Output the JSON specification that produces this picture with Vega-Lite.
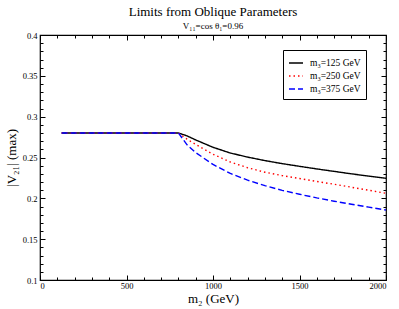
{
  "$schema": "https://vega.github.io/schema/vega-lite/v6.json",
  "width": 346,
  "height": 245,
  "autosize": "none",
  "padding": {"left": 40, "top": 35, "right": 13, "bottom": 29},
  "background": "white",
  "config": {
    "font": "Liberation Serif",
    "view": {"stroke": "#000", "strokeWidth": 1.2},
    "axis": {"domain": false, "grid": false, "tickColor": "#000", "labelColor": "#000", "titleColor": "#000", "labelFont": "Liberation Serif", "titleFont": "Liberation Serif", "labelFontSize": 8.5, "titleFontWeight": "normal"}
  },
  "title": {
    "text": "Limits from Oblique Parameters",
    "subtitle": "V₁₁=cos θ₁=0.96",
    "fontSize": 13,
    "fontWeight": "normal",
    "subtitleFontSize": 9,
    "subtitleFont": "Liberation Serif",
    "font": "Liberation Serif",
    "anchor": "middle",
    "offset": 0,
    "subtitlePadding": 3,
    "color": "#000",
    "subtitleColor": "#000"
  },
  "data": {
    "values": [
      {"m2": 125, "v": 0.28, "s": "m₃=125 GeV"},
      {"m2": 800, "v": 0.28, "s": "m₃=125 GeV"},
      {"m2": 850, "v": 0.2765, "s": "m₃=125 GeV"},
      {"m2": 900, "v": 0.2715, "s": "m₃=125 GeV"},
      {"m2": 1000, "v": 0.2625, "s": "m₃=125 GeV"},
      {"m2": 1100, "v": 0.2555, "s": "m₃=125 GeV"},
      {"m2": 1200, "v": 0.2505, "s": "m₃=125 GeV"},
      {"m2": 1300, "v": 0.2462, "s": "m₃=125 GeV"},
      {"m2": 1400, "v": 0.2425, "s": "m₃=125 GeV"},
      {"m2": 1500, "v": 0.2392, "s": "m₃=125 GeV"},
      {"m2": 1600, "v": 0.236, "s": "m₃=125 GeV"},
      {"m2": 1700, "v": 0.233, "s": "m₃=125 GeV"},
      {"m2": 1800, "v": 0.23, "s": "m₃=125 GeV"},
      {"m2": 1900, "v": 0.2272, "s": "m₃=125 GeV"},
      {"m2": 2000, "v": 0.2245, "s": "m₃=125 GeV"},
      {"m2": 125, "v": 0.28, "s": "m₃=250 GeV"},
      {"m2": 800, "v": 0.28, "s": "m₃=250 GeV"},
      {"m2": 850, "v": 0.2725, "s": "m₃=250 GeV"},
      {"m2": 900, "v": 0.266, "s": "m₃=250 GeV"},
      {"m2": 1000, "v": 0.254, "s": "m₃=250 GeV"},
      {"m2": 1100, "v": 0.2445, "s": "m₃=250 GeV"},
      {"m2": 1200, "v": 0.2375, "s": "m₃=250 GeV"},
      {"m2": 1300, "v": 0.232, "s": "m₃=250 GeV"},
      {"m2": 1400, "v": 0.2278, "s": "m₃=250 GeV"},
      {"m2": 1500, "v": 0.2243, "s": "m₃=250 GeV"},
      {"m2": 1600, "v": 0.2207, "s": "m₃=250 GeV"},
      {"m2": 1700, "v": 0.2172, "s": "m₃=250 GeV"},
      {"m2": 1800, "v": 0.2136, "s": "m₃=250 GeV"},
      {"m2": 1900, "v": 0.2099, "s": "m₃=250 GeV"},
      {"m2": 2000, "v": 0.2062, "s": "m₃=250 GeV"},
      {"m2": 125, "v": 0.28, "s": "m₃=375 GeV"},
      {"m2": 800, "v": 0.28, "s": "m₃=375 GeV"},
      {"m2": 850, "v": 0.2655, "s": "m₃=375 GeV"},
      {"m2": 900, "v": 0.256, "s": "m₃=375 GeV"},
      {"m2": 1000, "v": 0.2415, "s": "m₃=375 GeV"},
      {"m2": 1100, "v": 0.2305, "s": "m₃=375 GeV"},
      {"m2": 1200, "v": 0.2222, "s": "m₃=375 GeV"},
      {"m2": 1300, "v": 0.2155, "s": "m₃=375 GeV"},
      {"m2": 1400, "v": 0.2098, "s": "m₃=375 GeV"},
      {"m2": 1500, "v": 0.205, "s": "m₃=375 GeV"},
      {"m2": 1600, "v": 0.2005, "s": "m₃=375 GeV"},
      {"m2": 1700, "v": 0.1965, "s": "m₃=375 GeV"},
      {"m2": 1800, "v": 0.1928, "s": "m₃=375 GeV"},
      {"m2": 1900, "v": 0.1892, "s": "m₃=375 GeV"},
      {"m2": 2000, "v": 0.1857, "s": "m₃=375 GeV"}
    ]
  },
  "resolve": {"axis": {"x": "independent", "y": "independent"}},
  "layer": [
    {
      "mark": {"type": "line", "strokeWidth": 1.4, "clip": true},
      "encoding": {
        "x": {"field": "m2", "type": "quantitative", "scale": {"domain": [0, 2000], "nice": false},
          "axis": {"orient": "bottom", "values": [0, 500, 1000, 1500, 2000], "format": "d", "tickSize": -5, "labelPadding": 6, "title": "m₂ (GeV)", "titleFontSize": 13, "titlePadding": 3}},
        "y": {"field": "v", "type": "quantitative", "scale": {"domain": [0.1, 0.4], "nice": false, "zero": false},
          "axis": {"orient": "left", "values": [0.1, 0.15, 0.2, 0.25, 0.3, 0.35, 0.4], "format": "~g", "tickSize": -5, "labelPadding": 8, "title": "|V₂₁| (max)", "titleFontSize": 13, "titlePadding": 4}},
        "color": {"field": "s", "type": "nominal", "scale": {"domain": ["m₃=125 GeV", "m₃=250 GeV", "m₃=375 GeV"], "range": ["#000000", "#ff0000", "#0000ff"]},
          "legend": {"title": null, "orient": "none", "legendX": 243, "legendY": 15, "strokeColor": "#000", "fillColor": "#fff", "padding": 5, "labelFontSize": 9.5, "labelFont": "Liberation Serif", "labelColor": "#000", "symbolSize": 196, "symbolStrokeWidth": 1.4, "rowPadding": 0, "labelOffset": 6}},
        "strokeDash": {"field": "s", "type": "nominal", "scale": {"domain": ["m₃=125 GeV", "m₃=250 GeV", "m₃=375 GeV"], "range": [[1, 0], [1.5, 3], [6, 3]]}, "legend": null}
      }
    },
    {
      "mark": {"type": "point", "opacity": 0},
      "encoding": {
        "x": {"field": "m2", "type": "quantitative", "axis": {"orient": "bottom", "values": [100, 200, 300, 400, 600, 700, 800, 900, 1100, 1200, 1300, 1400, 1600, 1700, 1800, 1900], "tickSize": -3, "labels": false, "title": null}},
        "y": {"field": "v", "type": "quantitative", "axis": {"orient": "left", "values": [0.11, 0.12, 0.13, 0.14, 0.16, 0.17, 0.18, 0.19, 0.21, 0.22, 0.23, 0.24, 0.26, 0.27, 0.28, 0.29, 0.31, 0.32, 0.33, 0.34, 0.36, 0.37, 0.38, 0.39], "tickSize": -3, "labels": false, "title": null}}
      }
    },
    {
      "mark": {"type": "point", "opacity": 0},
      "encoding": {
        "x": {"field": "m2", "type": "quantitative", "axis": {"orient": "top", "values": [0, 500, 1000, 1500, 2000], "tickSize": -5, "labels": false, "title": null}},
        "y": {"field": "v", "type": "quantitative", "axis": {"orient": "right", "values": [0.1, 0.15, 0.2, 0.25, 0.3, 0.35, 0.4], "tickSize": -5, "labels": false, "title": null}}
      }
    },
    {
      "mark": {"type": "point", "opacity": 0},
      "encoding": {
        "x": {"field": "m2", "type": "quantitative", "axis": {"orient": "top", "values": [100, 200, 300, 400, 600, 700, 800, 900, 1100, 1200, 1300, 1400, 1600, 1700, 1800, 1900], "tickSize": -3, "labels": false, "title": null}},
        "y": {"field": "v", "type": "quantitative", "axis": {"orient": "right", "values": [0.11, 0.12, 0.13, 0.14, 0.16, 0.17, 0.18, 0.19, 0.21, 0.22, 0.23, 0.24, 0.26, 0.27, 0.28, 0.29, 0.31, 0.32, 0.33, 0.34, 0.36, 0.37, 0.38, 0.39], "tickSize": -3, "labels": false, "title": null}}
      }
    }
  ]
}
